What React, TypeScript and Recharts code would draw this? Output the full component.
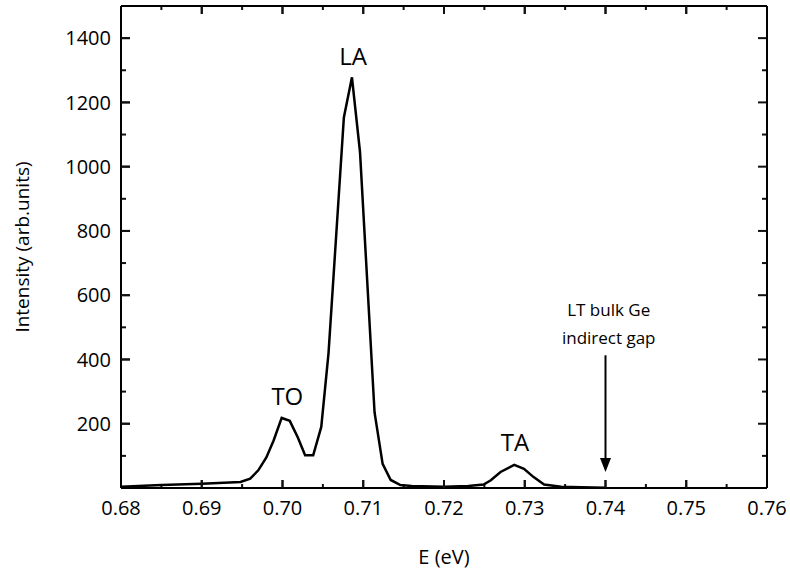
import { LineChart, Line, XAxis, YAxis, ReferenceDot, ReferenceLine } from "recharts";

const FONT = "'Open Sans', 'Liberation Sans', sans-serif";
const INK = "#111";

// spectrum
const energy = [
  0.68, 0.685, 0.69, 0.6948, 0.696, 0.697, 0.698, 0.6989, 0.6999, 0.7009,
  0.7019, 0.7028, 0.7038, 0.7048, 0.7057, 0.7076, 0.7086, 0.7096, 0.7114, 0.7124,
  0.7134, 0.7146, 0.716, 0.72, 0.723, 0.7249, 0.7258, 0.727, 0.7287, 0.7299,
  0.7311, 0.7324, 0.7345, 0.737, 0.74,
];
const intensity = [
  4, 9, 13, 19, 29, 55, 95, 148, 218, 209,
  157, 102, 102, 190, 420, 1153, 1278, 1045, 235, 75,
  25, 9, 6, 4, 6, 11, 24, 50, 72, 60,
  34, 11, 4, 2, 1,
];

const xMajor = [0.68, 0.69, 0.7, 0.71, 0.72, 0.73, 0.74, 0.75, 0.76];
const xMinor = [0.685, 0.695, 0.705, 0.715, 0.725, 0.735, 0.745, 0.755];
const yMajor = [200, 400, 600, 800, 1000, 1200, 1400];
const yMinor = [100, 300, 500, 700, 900, 1100, 1300];

const peakLabels = [
  { name: "TO", x: 0.7006, y: 284 },
  { name: "LA", x: 0.70875, y: 1344 },
  { name: "TA", x: 0.7288, y: 142 },
];
const gapNote = [
  { text: "LT bulk Ge", x: 0.7404, y: 553 },
  { text: "indirect gap", x: 0.7404, y: 466 },
];
const gapArrow = { x: 0.74, from: 413, to: 50 };

const data = energy.map((e, i) => ({ e, v: intensity[i] }));

const X_DOMAIN: [number, number] = [0.68, 0.76];
const Y_DOMAIN: [number, number] = [0, 1500];
const axisLine = { stroke: "#000", strokeWidth: 2 };
const tickLine = { stroke: INK, strokeWidth: 2 };
const labelStyle = { fontSize: 20, fontFamily: FONT, fill: "#000" };
const blank = () => "";

// inward tick marks at both ends of a reference segment spanning the frame
function VTicks(props: any) {
  const { x1, y1, y2, len } = props;
  const top = Math.min(y1, y2);
  const bot = Math.max(y1, y2);
  return (
    <g>
      <rect x={x1 - 1} y={bot - len} width={2} height={len} fill={INK} />
      <rect x={x1 - 1} y={top} width={2} height={len} fill={INK} />
    </g>
  );
}
function HTicks(props: any) {
  const { x1, x2, y1, len } = props;
  const left = Math.min(x1, x2);
  const right = Math.max(x1, x2);
  return (
    <g>
      <rect x={left} y={y1 - 1} width={len} height={2} fill={INK} />
      <rect x={right - len} y={y1 - 1} width={len} height={2} fill={INK} />
    </g>
  );
}

function Arrow({ x1, y1, x2, y2 }: any) {
  const head = 14;
  return (
    <g>
      <line x1={x1} x2={x2} y1={y1} y2={y2 - head + 2} stroke="#000" strokeWidth={2} />
      <polygon points={`${x2 - 5.5},${y2 - head} ${x2 + 5.5},${y2 - head} ${x2},${y2}`} fill="#000" />
    </g>
  );
}

export default function App() {
  return (
    <div style={{ position: "absolute", left: 0, top: 0, width: 790, height: 571 }}>
      <LineChart width={790} height={571} data={data} margin={{ top: 5, right: 22, bottom: 0, left: 0 }}>
        <XAxis
          dataKey="e"
          type="number"
          domain={X_DOMAIN}
          ticks={xMajor}
          interval={0}
          height={83}
          tickSize={-8}
          tickMargin={21}
          tickLine={tickLine}
          tick={labelStyle}
          tickFormatter={(v: number) => v.toFixed(2)}
          axisLine={axisLine}
          label={{
            content: ({ viewBox }: any) => (
              <text x={viewBox.x + viewBox.width / 2} y={564} textAnchor="middle" fontSize={20} fontFamily={FONT} fill="#000">
                E (eV)
              </text>
            ),
          }}
        />
        <XAxis
          xAxisId="top"
          orientation="top"
          dataKey="e"
          type="number"
          domain={X_DOMAIN}
          ticks={xMajor}
          height={1}
          tickSize={-8}
          tickLine={tickLine}
          tickFormatter={blank}
          axisLine={axisLine}
        />
        <YAxis
          type="number"
          domain={Y_DOMAIN}
          ticks={yMajor}
          interval={0}
          width={121}
          tickSize={-9}
          tickMargin={19}
          tickLine={tickLine}
          tick={labelStyle}
          axisLine={axisLine}
          label={{
            content: ({ viewBox }: any) => {
              const cx = 22;
              const cy = viewBox.y + viewBox.height / 2;
              return (
                <text
                  x={cx}
                  y={cy}
                  transform={`rotate(-90, ${cx}, ${cy})`}
                  textAnchor="middle"
                  dominantBaseline="central"
                  fontSize={19}
                  fontFamily={FONT}
                  fill="#000"
                >
                  Intensity (arb.units)
                </text>
              );
            },
          }}
        />
        <YAxis
          yAxisId="right"
          orientation="right"
          type="number"
          domain={Y_DOMAIN}
          ticks={yMajor}
          width={1}
          tickSize={-9}
          tickLine={tickLine}
          tickFormatter={blank}
          axisLine={axisLine}
        />
        {xMajor.slice(1, -1).map((t) => (
          <ReferenceLine
            key={`xM${t}`}
            segment={[{ x: t, y: Y_DOMAIN[0] }, { x: t, y: Y_DOMAIN[1] }]}
            shape={(p: any) => <VTicks {...p} len={8} />}
          />
        ))}
        {xMinor.map((t) => (
          <ReferenceLine
            key={`xm${t}`}
            segment={[{ x: t, y: Y_DOMAIN[0] }, { x: t, y: Y_DOMAIN[1] }]}
            shape={(p: any) => <VTicks {...p} len={4} />}
          />
        ))}
        {yMajor.map((t) => (
          <ReferenceLine
            key={`yM${t}`}
            segment={[{ x: X_DOMAIN[0], y: t }, { x: X_DOMAIN[1], y: t }]}
            shape={(p: any) => <HTicks {...p} len={9} />}
          />
        ))}
        {yMinor.map((t) => (
          <ReferenceLine
            key={`ym${t}`}
            segment={[{ x: X_DOMAIN[0], y: t }, { x: X_DOMAIN[1], y: t }]}
            shape={(p: any) => <HTicks {...p} len={5} />}
          />
        ))}
        <Line
          type="linear"
          dataKey="v"
          stroke="#000"
          strokeWidth={2.5}
          dot={false}
          activeDot={false}
          isAnimationActive={false}
        />
        {peakLabels.map((p) => (
          <ReferenceDot
            key={p.name}
            x={p.x}
            y={p.y}
            r={1}
            fill="none"
            stroke="none"
            label={{ value: p.name, position: "center", fontSize: 24, fontFamily: FONT, fill: "#000" }}
          />
        ))}
        {gapNote.map((n) => (
          <ReferenceDot
            key={n.text}
            x={n.x}
            y={n.y}
            r={1}
            fill="none"
            stroke="none"
            label={{ value: n.text, position: "center", fontSize: 17, fontFamily: FONT, fill: "#000" }}
          />
        ))}
        <ReferenceLine
          segment={[
            { x: gapArrow.x, y: gapArrow.from },
            { x: gapArrow.x, y: gapArrow.to },
          ]}
          shape={Arrow}
        />
      </LineChart>
    </div>
  );
}
